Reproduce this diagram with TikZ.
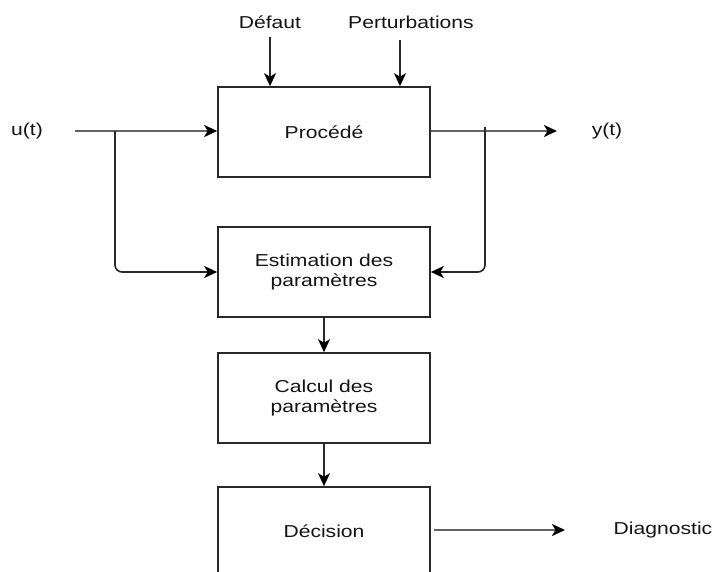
\documentclass[tikz,border=0pt]{standalone}
\usepackage{fontspec}
\setmainfont{Liberation Sans}[FakeStretch=1.22]
\usetikzlibrary{arrows.meta}
\definecolor{ink}{RGB}{20,20,20}
\definecolor{edge}{RGB}{40,40,40}
\definecolor{flow}{RGB}{100,100,100}
\begin{document}
\begin{tikzpicture}[x=1pt,y=-1pt,
  font=\fontsize{17.3}{20.5}\selectfont,
  block/.style={draw=edge,line width=1.6pt,fill=white,minimum width=212pt,minimum height=90pt,
    inner sep=0pt,align=center,text=ink},
  lbl/.style={text=ink,inner sep=0pt},
  tip/.style={-{Stealth[length=13pt,width=12pt,inset=3.5pt,color=black]}},
  link/.style={tip,draw=edge,line width=1.6pt},
  signal/.style={tip,draw=flow,line width=2.2pt},
  signaltap/.style={draw=edge,line width=1.6pt,rounded corners=7pt}]
\useasboundingbox (0,0) rectangle (716,572);
\clip (0,0) rectangle (716,572);

% blocks
\node[block] (proc) at (324,132) {Procédé};
\node[block] (est)  at (324,272) {Estimation des\\paramètres};
\node[block] (calc) at (324,398) {Calcul des\\paramètres};
\node[block] (dec)  at (324,532) {\raisebox{2pt}{Décision}};

% outer labels
\node[lbl] (defaut) at (270,22) {Défaut};
\node[lbl] (pert)   at (411,22) {Perturbations};
\node[lbl] (u)      at (27,131) {u(t)};
\node[lbl] (y)      at (607,131) {y(t)};
\node[lbl] (diag)   at (663,530) {Diagnostic};

% connector end points
\coordinate (uin)   at (75,131);
\coordinate (utap)  at (115,131);
\coordinate (yout)  at (557,131);
\coordinate (ytap)  at (485,127);
\coordinate (dtop)  at (270,37);
\coordinate (ptop)  at (400,40);
\coordinate (dstart) at (434,530);
\coordinate (dend)  at (565,530);

% disturbances into the process
\draw[link] (dtop) -- (dtop |- proc.north);
\draw[link] (ptop) -- (ptop |- proc.north);

% input and output signals
\draw[signal] (uin) -- (uin -| proc.west);
\draw[signal] (proc.east |- yout) -- (yout);

% taps feeding the estimator
\draw[signaltap,tip] (utap) |- (est.west);
\draw[signaltap,tip] (ytap) |- (est.east);

% estimation chain
\draw[link] (est.south) -- (calc.north);
\draw[link] (calc.south) -- (dec.north);

% diagnosis output
\draw[signal] (dstart) -- (dend);
\end{tikzpicture}
\end{document}
